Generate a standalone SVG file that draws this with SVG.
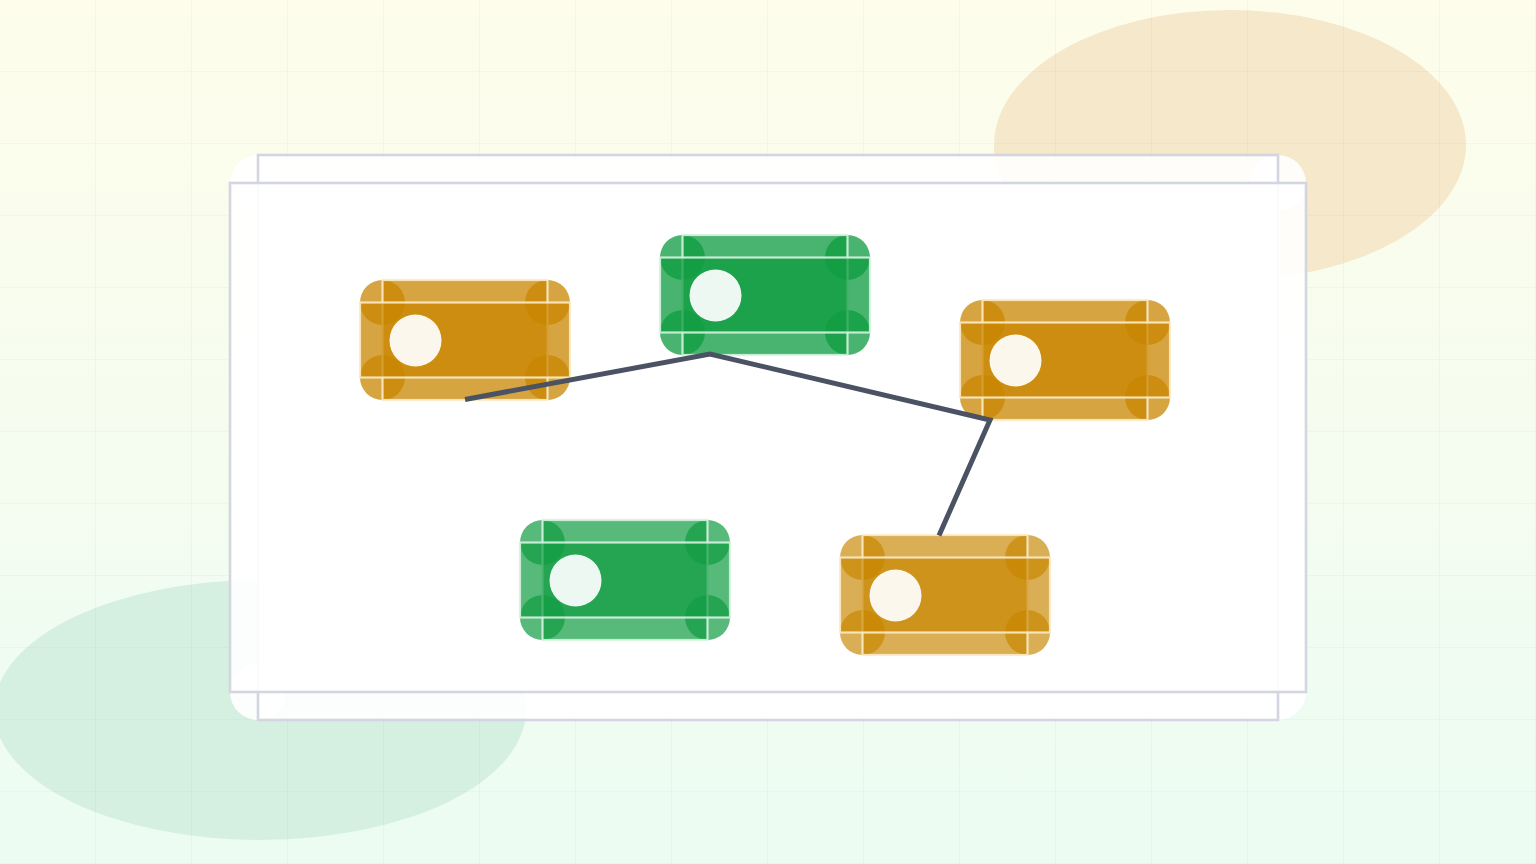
<svg xmlns="http://www.w3.org/2000/svg" width="1536" height="864" viewBox="0 0 1536 864">
<defs>
<linearGradient id="bg" x1="0" y1="0" x2="0" y2="1">
<stop offset="0" stop-color="#FEFDEB"/>
<stop offset="1" stop-color="#ECFCF3"/>
</linearGradient>
<pattern id="grid" width="96" height="72" patternUnits="userSpaceOnUse">
<path d="M96 0V72M0 72H96" fill="none" stroke="#2C4A36" stroke-opacity="0.07" stroke-width="1.2"/>
</pattern>
</defs>
<style>
.frame .f{fill:#ffffff;fill-opacity:0.9}
.frame rect{stroke:#D3D6E1;stroke-width:2.6}
.node .c{stroke-width:0}
.amber .c,.amber rect{fill:#C88600}
.green .c,.green rect{fill:#109C42}
.node rect{stroke-width:2.2}
.amber rect{stroke:#FBEBC6;stroke-opacity:0.9}
.green rect{stroke:#D6F2E0;stroke-opacity:0.9}
.amber .dot{fill:#FBF7EC}
.green .dot{fill:#EEF8F2}
.a75 .c,.a75 rect{fill-opacity:0.75}
.a68 .c,.a68 rect{fill-opacity:0.67}
.g76 .c,.g76 rect{fill-opacity:0.76}
.g70 .c,.g70 rect{fill-opacity:0.7}
.conn{fill:none;stroke:#4A5263;stroke-width:5;stroke-linejoin:miter;stroke-linecap:butt}
</style>
<rect width="1536" height="864" fill="url(#bg)"/>
<ellipse cx="1230" cy="145" rx="236" ry="135" fill="#F5E8CB"/>
<ellipse cx="260" cy="710" rx="266" ry="130" fill="#D5F0E0"/>
<rect width="1536" height="864" fill="url(#grid)"/>
<g id="frame" class="frame">
<circle class="f" cx="258" cy="183" r="28"/>
<circle class="f" cx="1278" cy="183" r="28"/>
<circle class="f" cx="258" cy="692" r="28"/>
<circle class="f" cx="1278" cy="692" r="28"/>
<rect class="f" x="258" y="155" width="1020" height="565"/>
<rect class="f" x="230" y="183" width="1076" height="509"/>
</g>
<g id="node1" class="node amber a75" transform="translate(360,280)">
<circle class="c" cx="22.5" cy="22.5" r="22.5"/>
<circle class="c" cx="187.5" cy="22.5" r="22.5"/>
<circle class="c" cx="22.5" cy="97.5" r="22.5"/>
<circle class="c" cx="187.5" cy="97.5" r="22.5"/>
<rect x="22.5" y="0" width="165" height="120"/>
<rect x="0" y="22.5" width="210" height="75"/>
<circle class="dot" cx="55.5" cy="60.5" r="26"/>
</g>
<g id="node2" class="node green g76" transform="translate(660,235)">
<circle class="c" cx="22.5" cy="22.5" r="22.5"/>
<circle class="c" cx="187.5" cy="22.5" r="22.5"/>
<circle class="c" cx="22.5" cy="97.5" r="22.5"/>
<circle class="c" cx="187.5" cy="97.5" r="22.5"/>
<rect x="22.5" y="0" width="165" height="120"/>
<rect x="0" y="22.5" width="210" height="75"/>
<circle class="dot" cx="55.5" cy="60.5" r="26"/>
</g>
<g id="node3" class="node amber a75" transform="translate(960,300)">
<circle class="c" cx="22.5" cy="22.5" r="22.5"/>
<circle class="c" cx="187.5" cy="22.5" r="22.5"/>
<circle class="c" cx="22.5" cy="97.5" r="22.5"/>
<circle class="c" cx="187.5" cy="97.5" r="22.5"/>
<rect x="22.5" y="0" width="165" height="120"/>
<rect x="0" y="22.5" width="210" height="75"/>
<circle class="dot" cx="55.5" cy="60.5" r="26"/>
</g>
<g id="node4" class="node green g70" transform="translate(520,520)">
<circle class="c" cx="22.5" cy="22.5" r="22.5"/>
<circle class="c" cx="187.5" cy="22.5" r="22.5"/>
<circle class="c" cx="22.5" cy="97.5" r="22.5"/>
<circle class="c" cx="187.5" cy="97.5" r="22.5"/>
<rect x="22.5" y="0" width="165" height="120"/>
<rect x="0" y="22.5" width="210" height="75"/>
<circle class="dot" cx="55.5" cy="60.5" r="26"/>
</g>
<g id="node5" class="node amber a68" transform="translate(840,535)">
<circle class="c" cx="22.5" cy="22.5" r="22.5"/>
<circle class="c" cx="187.5" cy="22.5" r="22.5"/>
<circle class="c" cx="22.5" cy="97.5" r="22.5"/>
<circle class="c" cx="187.5" cy="97.5" r="22.5"/>
<rect x="22.5" y="0" width="165" height="120"/>
<rect x="0" y="22.5" width="210" height="75"/>
<circle class="dot" cx="55.5" cy="60.5" r="26"/>
</g>
<g id="connectors">
<path class="conn" d="M465 399.5L710 354L990 420L939 535.5"/>
</g>
</svg>
